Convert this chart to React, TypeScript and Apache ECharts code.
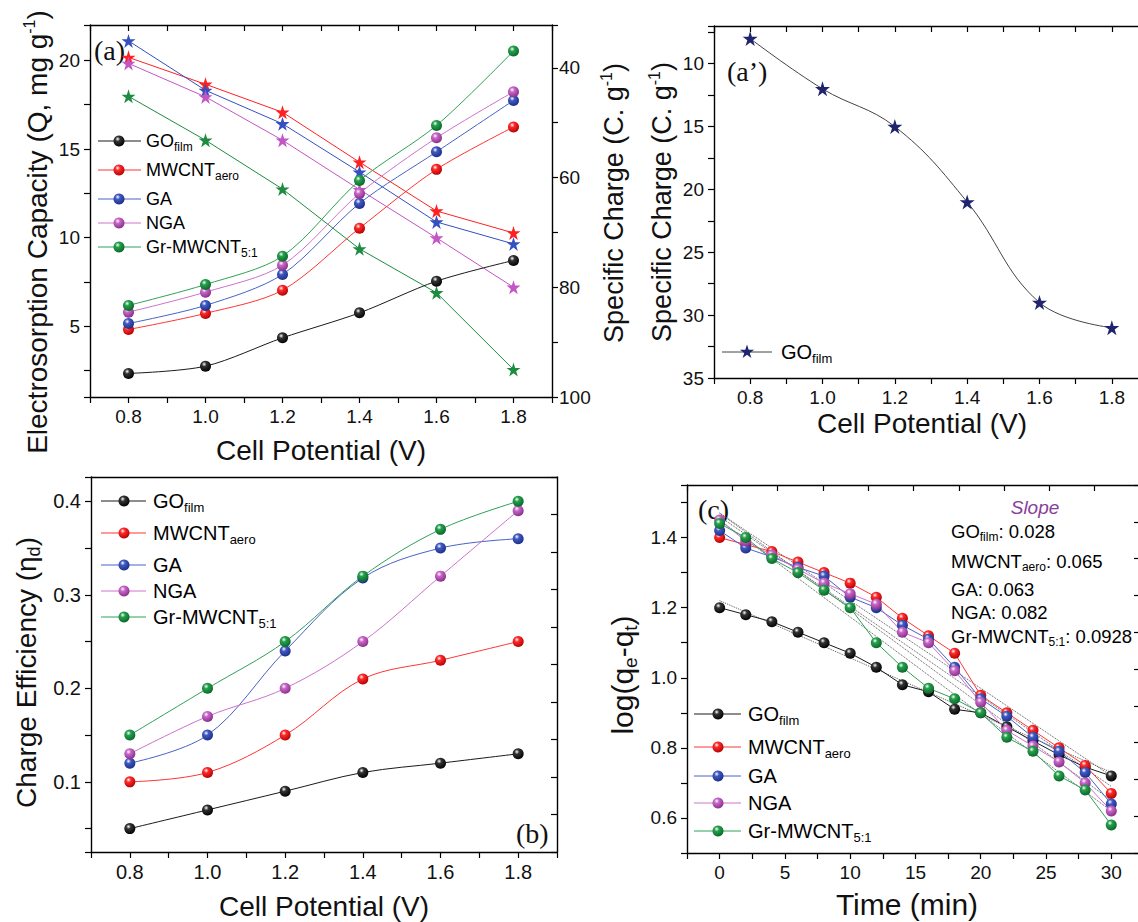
import React, { useEffect, useRef } from "react";
import * as echarts from "echarts";

// ---------------- data ----------------
const potential = [0.8, 1.0, 1.2, 1.4, 1.6, 1.8];

// (a) electrosorption capacity, mg g-1 (left axis, spheres)
const capGO = [2.33, 2.74, 4.34, 5.75, 7.54, 8.71];
const capMWCNT = [4.81, 5.72, 7.03, 10.53, 13.85, 16.24];
const capGA = [5.15, 6.17, 7.92, 11.93, 14.84, 17.74];
const capNGA = [5.79, 6.92, 8.44, 12.49, 15.63, 18.23];
const capGr = [6.17, 7.35, 8.95, 13.22, 16.33, 20.53];

// (a) specific charge, C g-1 (right axis, stars)
const chgMWCNT = [38.1, 43.0, 48.1, 57.2, 66.1, 70.1];
const chgGA = [35.1, 44.1, 50.2, 59.0, 68.1, 72.1];
const chgNGA = [39.2, 45.3, 53.2, 62.2, 71.0, 80.0];
const chgGr = [45.2, 53.2, 62.1, 73.0, 81.0, 95.0];

// (a') specific charge of GO film
const chgGO = [8, 12, 15, 21, 29, 31];

// (b) charge efficiency
const effGO = [0.05, 0.07, 0.09, 0.11, 0.12, 0.13];
const effMWCNT = [0.1, 0.11, 0.15, 0.21, 0.23, 0.25];
const effGA = [0.12, 0.15, 0.24, 0.318, 0.35, 0.36];
const effNGA = [0.13, 0.17, 0.2, 0.25, 0.32, 0.39];
const effGr = [0.15, 0.2, 0.25, 0.32, 0.37, 0.4];

// (c) kinetics log(qe-qt) vs time
const time = [0, 2, 4, 6, 8, 10, 12, 14, 16, 18, 20, 22, 24, 26, 28, 30];
const logGO = [1.2, 1.18, 1.16, 1.13, 1.1, 1.07, 1.03, 0.98, 0.96, 0.91, 0.9, 0.86, 0.82, 0.78, 0.745, 0.72];
const logMWCNT = [1.4, 1.38, 1.36, 1.33, 1.3, 1.27, 1.23, 1.17, 1.12, 1.07, 0.95, 0.9, 0.85, 0.8, 0.75, 0.67];
const logGA = [1.42, 1.37, 1.345, 1.315, 1.29, 1.23, 1.2, 1.15, 1.11, 1.03, 0.94, 0.89, 0.83, 0.79, 0.73, 0.64];
const logNGA = [1.45, 1.39, 1.35, 1.31, 1.27, 1.24, 1.21, 1.13, 1.1, 1.02, 0.93, 0.85, 0.805, 0.76, 0.7, 0.62];
const logGr = [1.44, 1.4, 1.34, 1.3, 1.25, 1.2, 1.1, 1.03, 0.97, 0.94, 0.9, 0.83, 0.79, 0.72, 0.68, 0.58];

// (c) linear fits (dotted), values at start / end time
const fitTime = [0, 30];
const fitGO = [1.22, 0.73];
const fitMWCNT = [1.47, 0.72];
const fitGA = [1.46, 0.69];
const fitNGA = [1.47, 0.65];
const fitGr = [1.45, 0.62];
const slopes = ["0.028", "0.065", "0.063", "0.082", "0.0928"];

// tick labels
const potentialTicks = [0.8, 1.0, 1.2, 1.4, 1.6, 1.8];
const capTicks = [5, 10, 15, 20];
const chargeTicks = [40, 60, 80, 100];
const chargeGOTicks = [10, 15, 20, 25, 30, 35];
const effTicks = [0.1, 0.2, 0.3, 0.4];
const logTicks = [0.6, 0.8, 1.0, 1.2, 1.4];
const timeTicks = [0, 5, 10, 15, 20, 25, 30];

const seriesNames = ["GO", "MWCNT", "GA", "NGA", "Gr-MWCNT"];
const seriesSubs = ["film", "aero", "", "", "5:1"];

// ---------------- styling ----------------
const FONT = '"Liberation Sans", Arial, Helvetica, sans-serif';
const SERIF = '"Liberation Serif", "Times New Roman", serif';
const TXT = "#111";

const COLORS = [
  { line: "#1a1a1a", base: "#333333", dark: "#000000", star: "#000000" },
  { line: "#ff3434", base: "#ff2a2a", dark: "#b00000", star: "#ff2020" },
  { line: "#4862c6", base: "#4159c2", dark: "#1a2c85", star: "#3550c0" },
  { line: "#cc72cc", base: "#c867c8", dark: "#862c86", star: "#c455c4" },
  { line: "#30a058", base: "#25a04d", dark: "#0a6428", star: "#1e8c40" },
];
const NAVY = "#1f246e";

const STAR =
  "path://M0,-10L2.245,-3.09L9.51,-3.09L3.633,1.18L5.88,8.09L0,3.82L-5.88,8.09L-3.633,1.18L-9.51,-3.09L-2.245,-3.09Z";

function sphere(i: number) {
  const c = COLORS[i];
  return new echarts.graphic.RadialGradient(0.38, 0.32, 0.72, [
    { offset: 0, color: "#ffffff" },
    { offset: 0.3, color: c.base },
    { offset: 1, color: c.dark },
  ]);
}

function fmt(list: number[], digits: number) {
  return (v: number) => (list.some((t) => Math.abs(t - v) < 1e-6) ? v.toFixed(digits) : "");
}

const axisLine = { show: true, onZero: false, lineStyle: { color: "#000", width: 1.4 } };
const tickOut = { show: true, inside: false, length: 6, lineStyle: { color: "#000", width: 1.2 } };
const tickIn = { show: true, inside: true, length: 6, lineStyle: { color: "#000", width: 1.2 } };
const noSplit = { show: false };
const label = (fs: number, margin: number, formatter: any) => ({
  color: TXT,
  fontSize: fs,
  fontFamily: FONT,
  margin,
  formatter,
});
const xTitle = (fs: number, padRight = 0) => ({
  fontSize: fs,
  fontFamily: FONT,
  color: TXT,
  padding: [0, padRight, 0, 0],
});
const supRich = (fs: number) => ({
  t: { fontSize: fs, fontFamily: FONT, color: TXT, lineHeight: fs + 2, verticalAlign: "bottom" },
  p: { fontSize: 16, fontFamily: FONT, color: TXT, lineHeight: 16, verticalAlign: "top" },
});
const subRich = (fs: number, sfs: number) => ({
  t: { fontSize: fs, fontFamily: FONT, color: TXT, lineHeight: fs + 3, verticalAlign: "top" },
  b: { fontSize: sfs, fontFamily: FONT, color: TXT, lineHeight: fs + 3, verticalAlign: "bottom" },
});
const legRich = (fs: number) => ({
  m: { fontSize: fs, fontFamily: FONT, color: TXT, lineHeight: fs + 3, verticalAlign: "top" },
  s: {
    fontSize: Math.round(fs * 0.66),
    fontFamily: FONT,
    color: TXT,
    lineHeight: fs + 3,
    verticalAlign: "bottom",
  },
});

function pairs(xs: number[], ys: number[]) {
  return xs.map((x, i) => [x, ys[i]]);
}

function sphereSeries(i: number, xi: number, yi: number, ys: number[], xs: number[], smooth: number | boolean) {
  return {
    type: "line",
    name: seriesSubs[i] ? `${seriesNames[i]} ${seriesSubs[i]}` : seriesNames[i],
    xAxisIndex: xi,
    yAxisIndex: yi,
    data: pairs(xs, ys),
    smooth,
    symbol: "circle",
    symbolSize: 11,
    showSymbol: true,
    lineStyle: { color: COLORS[i].line, width: 1 },
    itemStyle: { color: sphere(i), borderWidth: 0 },
    emphasis: { disabled: true },
    z: 3,
  };
}

function starSeries(i: number, ys: number[]) {
  return {
    type: "line",
    name: `${seriesNames[i]} charge`,
    xAxisIndex: 0,
    yAxisIndex: 1,
    data: pairs(potential, ys),
    smooth: false,
    symbol: STAR,
    symbolSize: 14,
    lineStyle: { color: COLORS[i].star, width: 1 },
    itemStyle: { color: COLORS[i].star },
    emphasis: { disabled: true },
    z: 2,
  };
}

function fitSeries(i: number, ys: number[]) {
  return {
    type: "line",
    name: `${seriesNames[i]} fit`,
    xAxisIndex: 6,
    yAxisIndex: 5,
    data: pairs(fitTime, ys),
    symbol: "none",
    lineStyle: { color: "#555", width: 1, type: "dotted" },
    emphasis: { disabled: true },
    z: 1,
  };
}

function starPts(cx: number, cy: number, R: number) {
  const pts: number[][] = [];
  for (let k = 0; k < 10; k++) {
    const r = k % 2 === 0 ? R : R * 0.382;
    const a = ((-90 + k * 36) * Math.PI) / 180;
    pts.push([cx + r * Math.cos(a), cy + r * Math.sin(a)]);
  }
  return pts;
}

function subText(i: number) {
  return seriesSubs[i] ? `{m|${seriesNames[i]}}{s|${seriesSubs[i]}}` : `{m|${seriesNames[i]}}`;
}

function legendBlock(rows: number[], x0: number, x1: number, mx: number, tx: number, fs: number) {
  const els: any[] = [];
  rows.forEach((y, i) => {
    els.push({
      type: "line",
      shape: { x1: x0, y1: y, x2: x1, y2: y },
      style: { stroke: COLORS[i].line, lineWidth: 1 },
    });
    els.push({ type: "circle", shape: { cx: mx, cy: y, r: 5.5 }, style: { fill: sphere(i) } });
    els.push({
      type: "text",
      x: tx,
      y: y - fs / 2,
      style: { text: subText(i), rich: legRich(fs), verticalAlign: "top", align: "left" },
    });
  });
  return els;
}

function panelLabel(text: string, x: number, y: number) {
  return {
    type: "text",
    x,
    y,
    style: { text, fontSize: 28, fontFamily: SERIF, fill: TXT, verticalAlign: "middle", align: "left" },
  };
}

export default function App() {
  const ref = useRef<HTMLDivElement>(null);

  useEffect(() => {
    if (!ref.current) return;
    const chart = echarts.init(ref.current, null, { renderer: "svg" });

    const potAxisBase = {
      type: "value",
      min: 0.7,
      max: 1.9,
      minInterval: 0.1,
      maxInterval: 0.1,
      axisLine,
      splitLine: noSplit,
    };

    const graphics: any[] = [];
    graphics.push(panelLabel("(a)", 94, 50));
    graphics.push(panelLabel("(a\u2019)", 727, 71));
    graphics.push(panelLabel("(b)", 516, 833));
    graphics.push(panelLabel("(c)", 698, 509));
    graphics.push(...legendBlock([141, 170, 199, 223, 247], 98, 141, 119, 146, 18));
    graphics.push(...legendBlock([501, 533, 565, 591, 617], 101, 146, 124, 153, 20));
    graphics.push(...legendBlock([714, 747, 776, 803, 831], 694, 741, 718, 748, 20));
    // (a') legend
    graphics.push({
      type: "line",
      shape: { x1: 722, y1: 352, x2: 772, y2: 352 },
      style: { stroke: "#444", lineWidth: 1 },
    });
    graphics.push({ type: "polygon", shape: { points: starPts(747, 352, 7.5) }, style: { fill: NAVY } });
    graphics.push({
      type: "text",
      x: 781,
      y: 352 - 10,
      style: { text: "{m|GO}{s|film}", rich: legRich(20), verticalAlign: "top", align: "left" },
    });
    // Slope block
    graphics.push({
      type: "text",
      x: 1035,
      y: 507,
      style: {
        text: "Slope",
        fontSize: 19,
        fontStyle: "italic",
        fontFamily: FONT,
        fill: "#8a3d9a",
        align: "center",
        verticalAlign: "middle",
      },
    });
    const slopeRows = [531, 561, 589, 612, 636];
    slopeRows.forEach((y, i) => {
      graphics.push({
        type: "text",
        x: 951,
        y: y - 9.25,
        style: {
          text: `${subText(i)}{m|: ${slopes[i]}}`,
          rich: legRich(18.5),
          verticalAlign: "top",
          align: "left",
        },
      });
    });

    const option: any = {
      animation: false,
      backgroundColor: "#ffffff",
      grid: [
        { left: 90, top: 25, width: 462, height: 372, outerBoundsMode: "none", containLabel: false },
        { left: 714, top: 26, width: 434, height: 352, outerBoundsMode: "none", containLabel: false },
        { left: 91, top: 477, width: 466, height: 375, outerBoundsMode: "none", containLabel: false },
        { left: 687, top: 485, width: 453, height: 368, outerBoundsMode: "none", containLabel: false },
      ],
      xAxis: [
        {
          ...potAxisBase,
          gridIndex: 0,
          position: "bottom",
          axisTick: tickOut,
          axisLabel: label(19, 10, fmt(potentialTicks, 1)),
          name: "Cell Potential (V)",
          nameLocation: "middle",
          nameGap: 39,
          nameTextStyle: xTitle(28),
        },
        { ...potAxisBase, gridIndex: 0, position: "top", axisTick: tickIn, axisLabel: { show: false } },
        {
          ...potAxisBase,
          gridIndex: 1,
          position: "bottom",
          axisTick: tickOut,
          axisLabel: label(19, 10, fmt(potentialTicks, 1)),
          name: "Cell Potential (V)",
          nameLocation: "middle",
          nameGap: 31,
          nameTextStyle: xTitle(28, 18),
        },
        { ...potAxisBase, gridIndex: 1, position: "top", axisTick: tickIn, axisLabel: { show: false } },
        {
          ...potAxisBase,
          gridIndex: 2,
          position: "bottom",
          axisTick: tickOut,
          axisLabel: label(20, 10, fmt(potentialTicks, 1)),
          name: "Cell Potential (V)",
          nameLocation: "middle",
          nameGap: 40,
          nameTextStyle: xTitle(28),
        },
        {
          ...potAxisBase,
          gridIndex: 2,
          position: "top",
          axisTick: { show: false },
          axisLabel: { show: false },
        },
        {
          type: "value",
          gridIndex: 3,
          position: "bottom",
          min: -2.5,
          max: 32.2,
          minInterval: 2.5,
          maxInterval: 2.5,
          axisLine,
          splitLine: noSplit,
          axisTick: tickOut,
          axisLabel: label(19, 10, fmt(timeTicks, 0)),
          name: "Time (min)",
          nameLocation: "middle",
          nameGap: 36,
          nameTextStyle: xTitle(30, 13),
        },
        {
          type: "value",
          gridIndex: 3,
          position: "top",
          min: 0,
          max: 10,
          interval: 1,
          axisLine,
          splitLine: noSplit,
          axisTick: tickIn,
          axisLabel: { show: false },
        },
      ],
      yAxis: [
        {
          type: "value",
          gridIndex: 0,
          position: "left",
          min: 1,
          max: 22,
          minInterval: 2.5,
          maxInterval: 2.5,
          axisLine,
          splitLine: noSplit,
          axisTick: tickOut,
          axisLabel: label(19, 10, fmt(capTicks, 0)),
          name: "{t|Electrosorption Capacity (Q, mg g}{p|-1}{t|)}",
          nameLocation: "middle",
          nameGap: 39,
          nameTextStyle: { rich: supRich(28), padding: [0, 42, 0, 0] },
        },
        {
          type: "value",
          gridIndex: 0,
          position: "right",
          inverse: true,
          min: 32.2,
          max: 100,
          minInterval: 10,
          maxInterval: 10,
          axisLine,
          splitLine: noSplit,
          axisTick: tickOut,
          axisLabel: label(19, 7, fmt(chargeTicks, 0)),
          name: "{t|Specific Charge (C. g}{p|-1}{t|)}",
          nameLocation: "middle",
          nameGap: 46,
          nameTextStyle: { rich: supRich(27), padding: [0, 0, 0, 16] },
        },
        {
          type: "value",
          gridIndex: 1,
          position: "left",
          inverse: true,
          min: 7,
          max: 35,
          minInterval: 2.5,
          maxInterval: 2.5,
          axisLine,
          splitLine: noSplit,
          axisTick: tickOut,
          axisLabel: label(19, 10, fmt(chargeGOTicks, 0)),
          name: "{t|Specific Charge (C. g}{p|-1}{t|)}",
          nameLocation: "middle",
          nameGap: 39,
          nameTextStyle: { rich: supRich(27) },
        },
        {
          type: "value",
          gridIndex: 2,
          position: "left",
          min: 0.025,
          max: 0.426,
          minInterval: 0.05,
          maxInterval: 0.05,
          axisLine,
          splitLine: noSplit,
          axisTick: tickOut,
          axisLabel: label(20, 10, fmt(effTicks, 1)),
          name: "{t|Charge Efficiency (\u03b7}{b|d}{t|)}",
          nameLocation: "middle",
          nameGap: 48,
          nameTextStyle: { rich: subRich(28, 18), padding: [0, 16, 0, 0] },
        },
        {
          type: "value",
          gridIndex: 2,
          position: "right",
          min: 0,
          max: 10,
          interval: 1,
          axisLine,
          splitLine: noSplit,
          axisTick: tickIn,
          axisLabel: { show: false },
        },
        {
          type: "value",
          gridIndex: 3,
          position: "left",
          min: 0.5,
          max: 1.55,
          minInterval: 0.1,
          maxInterval: 0.1,
          axisLine,
          splitLine: noSplit,
          axisTick: tickOut,
          axisLabel: label(19, 10, fmt(logTicks, 1)),
          name: "{t|log(q}{b|e}{t|-q}{b|t}{t|)}",
          nameLocation: "middle",
          nameGap: 47,
          nameTextStyle: { rich: subRich(30, 19), padding: [0, 12, 0, 0] },
        },
        {
          type: "value",
          gridIndex: 3,
          position: "right",
          min: 0,
          max: 10,
          interval: 1,
          axisLine,
          splitLine: noSplit,
          axisTick: tickIn,
          axisLabel: { show: false },
        },
      ],
      series: [
        // (a) stars
        starSeries(1, chgMWCNT),
        starSeries(2, chgGA),
        starSeries(3, chgNGA),
        starSeries(4, chgGr),
        // (a) spheres
        sphereSeries(0, 0, 0, capGO, potential, 0.3),
        sphereSeries(1, 0, 0, capMWCNT, potential, 0.3),
        sphereSeries(2, 0, 0, capGA, potential, 0.3),
        sphereSeries(3, 0, 0, capNGA, potential, 0.3),
        sphereSeries(4, 0, 0, capGr, potential, 0.3),
        // (a')
        {
          type: "line",
          name: "GO film charge",
          xAxisIndex: 2,
          yAxisIndex: 2,
          data: pairs(potential, chgGO),
          smooth: 0.4,
          symbol: STAR,
          symbolSize: 15,
          lineStyle: { color: "#444", width: 1 },
          itemStyle: { color: NAVY },
          emphasis: { disabled: true },
        },
        // (b)
        sphereSeries(0, 4, 3, effGO, potential, 0.35),
        sphereSeries(1, 4, 3, effMWCNT, potential, 0.35),
        sphereSeries(2, 4, 3, effGA, potential, 0.35),
        sphereSeries(3, 4, 3, effNGA, potential, 0.35),
        sphereSeries(4, 4, 3, effGr, potential, 0.35),
        // (c) fits
        fitSeries(0, fitGO),
        fitSeries(1, fitMWCNT),
        fitSeries(2, fitGA),
        fitSeries(3, fitNGA),
        fitSeries(4, fitGr),
        // (c) data
        sphereSeries(0, 6, 5, logGO, time, false),
        sphereSeries(1, 6, 5, logMWCNT, time, false),
        sphereSeries(2, 6, 5, logGA, time, false),
        sphereSeries(3, 6, 5, logNGA, time, false),
        sphereSeries(4, 6, 5, logGr, time, false),
      ],
      graphic: { elements: graphics },
    };

    chart.setOption(option);
    return () => chart.dispose();
  }, []);

  return (
    <div
      ref={ref}
      style={{ position: "absolute", left: 0, top: 0, width: 1138, height: 922, background: "#fff" }}
    />
  );
}
